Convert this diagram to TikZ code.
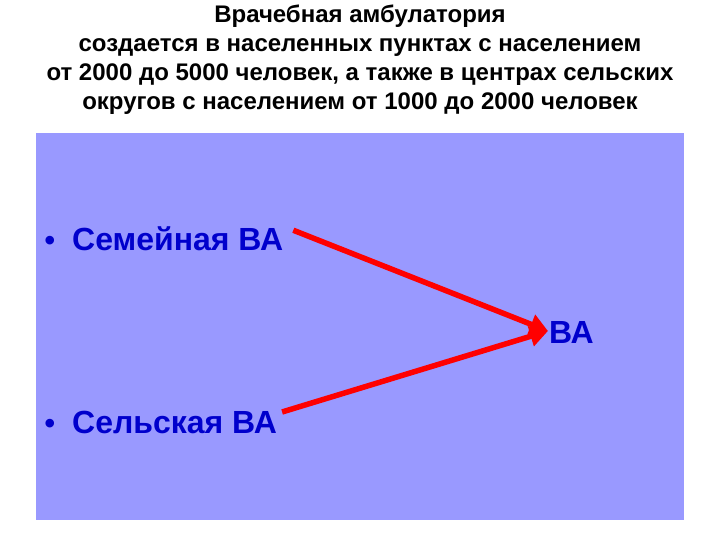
\documentclass[tikz,border=0pt]{standalone}
\usepackage{fontspec}
\setmainfont{Liberation Sans}
\usetikzlibrary{arrows.meta}
\definecolor{panel}{RGB}{153,153,255}
\definecolor{txtblue}{RGB}{0,0,204}
\definecolor{arrred}{RGB}{255,0,0}
\tikzset{
  titletext/.style={font=\fontsize{24}{29}\selectfont\bfseries, text=black, align=center, inner sep=0pt},
  item/.style={font=\fontsize{32}{36}\selectfont\bfseries, text=txtblue, inner sep=0pt, anchor=base west},
  bullet/.style={font=\fontsize{30}{32}\selectfont\bfseries, text=txtblue, inner sep=0pt, anchor=base},
  link/.style={draw=arrred, line width=5.5pt, -{Triangle[length=18pt,width=20pt]}}
}
\begin{document}
\begin{tikzpicture}[x=1pt,y=-1pt]
\useasboundingbox (0,0) rectangle (720,540);
\fill[panel] (36,133) rectangle (684,520);
\node[titletext, anchor=base] (title) at (360,110) {Врачебная амбулатория\\создается в населенных пунктах с населением\\от 2000 до 5000 человек, а также в центрах сельских\\округов с населением от 1000 до 2000 человек};
\node[item] (fam) at (72,250) {Семейная ВА};
\node[bullet] (b1) at (50,250) {•};
\node[item] (va) at (549,343) {ВА};
\node[item] (rur) at (72,433) {Сельская ВА};
\node[bullet] (b2) at (50,433) {•};
\coordinate (tip) at (548,331);
\draw[link] (fam.east) ++(10,-8) coordinate (s1) -- (tip);
\draw[link] (rur.east) ++(5,-10) coordinate (s2) -- (tip);
\end{tikzpicture}
\end{document}
